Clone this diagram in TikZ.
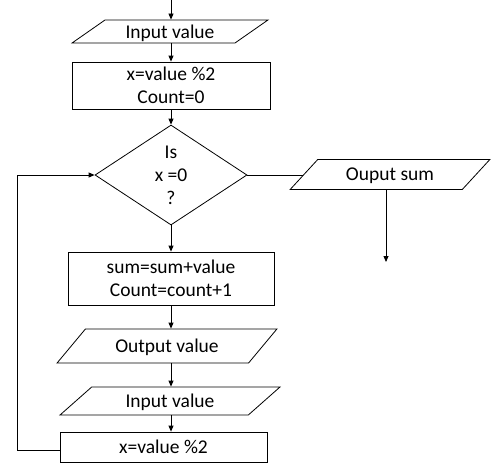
\documentclass[tikz,border=0pt]{standalone}
\usepackage{fontspec}
\setmainfont{Carlito}
\usetikzlibrary{shapes.geometric,arrows.meta}
\begin{document}
\begin{tikzpicture}[x=1pt,y=-1pt,
  every node/.style={font=\fontsize{19.5}{23}\selectfont, align=center, inner sep=0pt},
  box/.style={draw, line width=0.8pt, rectangle},
  io/.style={draw, line width=0.8pt, trapezium, trapezium stretches=true, text depth=0pt},
  decision/.style={draw, line width=0.8pt, diamond, aspect=1.52},
  arr/.style={line width=0.8pt, -{Triangle[length=6pt,width=5pt]}},
  ln/.style={line width=0.8pt}]
\useasboundingbox (0,0) rectangle (497,463);
\coordinate (start) at (171,0);
\node[io, trapezium left angle=31, trapezium right angle=149, minimum width=196pt, minimum height=23pt] (in1) at (170,31.5) {Input value};
\node[box, minimum width=198pt, minimum height=47pt] (init) at (171,85.5) {x=value \%2\\Count=0};
\node[decision, minimum width=152pt, minimum height=100pt] (dec) at (171,175) {Is\\x =0\\?};
\node[io, trapezium left angle=37, trapezium right angle=143, minimum width=200pt, minimum height=30pt] (outs) at (390,174.5) {Ouput sum};
\coordinate (end) at (386,262);
\node[box, minimum width=206pt, minimum height=53pt] (upd) at (171,278.5) {sum=sum+value\\Count=count+1};
\node[io, trapezium left angle=37, trapezium right angle=143, minimum width=220pt, minimum height=34pt] (outv) at (167,346) {Output value};
\node[io, trapezium left angle=37, trapezium right angle=143, minimum width=220pt, minimum height=28pt] (in2) at (170,401) {Input value};
\node[box, minimum width=207pt, minimum height=30pt] (mod) at (163.5,447) {x=value \%2};
\coordinate (lp) at (17,175);

\draw[arr] (start) -- (start |- in1.north);
\draw[arr] (in1.south -| dec.north) -- (init.north -| dec.north);
\draw[arr] (init.south -| dec.north) -- (dec.north);
\draw[ln] (dec.east) -- (dec.east -| outs.west);
\draw[arr] (outs.south -| end) -- (end);
\draw[arr] (dec.south) -- (upd.north);
\draw[arr] (upd.south -| dec.north) -- (outv.north -| dec.north);
\draw[arr] (outv.south -| dec.north) -- (in2.north -| dec.north);
\draw[arr] (in2.south -| dec.north) -- (mod.north -| dec.north);
\draw[arr] ([yshift=-3pt]mod.west) -| (lp) -- (dec.west);
\end{tikzpicture}
\end{document}
